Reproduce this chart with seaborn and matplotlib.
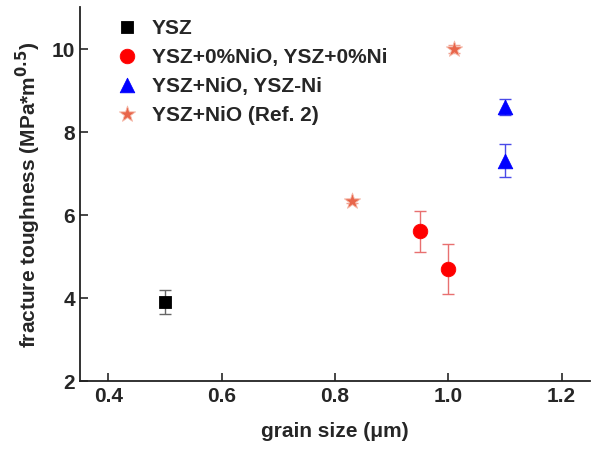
import matplotlib
matplotlib.use("Agg")
import matplotlib.pyplot as plt
import pandas as pd
import seaborn as sns

# data
groups = ["YSZ", "YSZ+0%NiO, YSZ+0%Ni", "YSZ+0%NiO, YSZ+0%Ni", "YSZ+NiO, YSZ-Ni", "YSZ+NiO, YSZ-Ni",
          "YSZ+NiO (Ref. 2)", "YSZ+NiO (Ref. 2)"]
grain_size = [0.50, 0.95, 1.00, 1.10, 1.10, 0.83, 1.01]
toughness = [3.9, 5.6, 4.7, 8.6, 7.3, 6.33, 10.0]
err_up = [0.3, 0.5, 0.6, 0.2, 0.4, 0.05, 0.1]
err_down = [0.3, 0.5, 0.6, 0.2, 0.4, 0.05, 0.1]

order = ["YSZ", "YSZ+0%NiO, YSZ+0%Ni", "YSZ+NiO, YSZ-Ni", "YSZ+NiO (Ref. 2)"]
colors = {"YSZ": "#000000", "YSZ+0%NiO, YSZ+0%Ni": "#ff0000",
          "YSZ+NiO, YSZ-Ni": "#0000ff", "YSZ+NiO (Ref. 2)": "#e8654a"}
err_colors = {"YSZ": "#666666", "YSZ+0%NiO, YSZ+0%Ni": "#e87070",
              "YSZ+NiO, YSZ-Ni": "#4a4ae8", "YSZ+NiO (Ref. 2)": "#f0a090"}
markers = {"YSZ": "s", "YSZ+0%NiO, YSZ+0%Ni": "o", "YSZ+NiO, YSZ-Ni": "^", "YSZ+NiO (Ref. 2)": "*"}
sizes = {"YSZ": 70, "YSZ+0%NiO, YSZ+0%Ni": 110, "YSZ+NiO, YSZ-Ni": 110, "YSZ+NiO (Ref. 2)": 150}

df = pd.DataFrame({"group": groups, "x": grain_size, "y": toughness, "up": err_up, "down": err_down})

sns.set_theme(style="ticks")
plt.rcParams["font.family"] = ["Liberation Sans", "DejaVu Sans"]
plt.rcParams["font.weight"] = "bold"
FS = 15

fig = plt.figure(figsize=(5.97, 4.52), dpi=100)
ax = fig.add_axes([0.134, 0.155, 0.854, 0.827])

for g in order:
    sub = df[df["group"] == g]
    ax.errorbar(sub["x"], sub["y"], yerr=[sub["down"], sub["up"]], fmt="none",
                ecolor=err_colors[g], elinewidth=1.0, capsize=4, capthick=1.0, zorder=2)
    sns.scatterplot(data=sub, x="x", y="y", color=colors[g], marker=markers[g], s=sizes[g],
                    edgecolor=colors[g] if g != "YSZ+NiO (Ref. 2)" else "#f5b8a8",
                    linewidth=0.6, label=g, ax=ax, zorder=3)

ax.set_xlim(0.35, 1.25)
ax.set_ylim(2, 11)
ax.set_xticks([0.4, 0.6, 0.8, 1.0, 1.2])
ax.set_yticks([2, 4, 6, 8, 10])
ax.tick_params(direction="in", length=6, width=1.2, labelsize=FS)
ax.set_xticklabels(["0.4", "0.6", "0.8", "1.0", "1.2"])
for lab in ax.get_xticklabels() + ax.get_yticklabels():
    lab.set_fontweight("bold")
for sp in ["top", "right"]:
    ax.spines[sp].set_visible(False)
for sp in ["left", "bottom"]:
    ax.spines[sp].set_linewidth(1.3)
    ax.spines[sp].set_color("#222222")

ax.set_xlabel("grain size (\u03bcm)", fontsize=FS, fontweight="bold", labelpad=12)
ax.set_ylabel("fracture toughness (MPa*m$^{\\mathbf{0.5}}$)", fontsize=FS, fontweight="bold", labelpad=6)

leg = ax.legend(loc="upper left", frameon=False, fontsize=FS, handletextpad=0.2,
                borderaxespad=0.1, labelspacing=0.48, bbox_to_anchor=(0.03, 1.0))
for t in leg.get_texts():
    t.set_fontweight("bold")

fig.savefig("out.png", dpi=100)
